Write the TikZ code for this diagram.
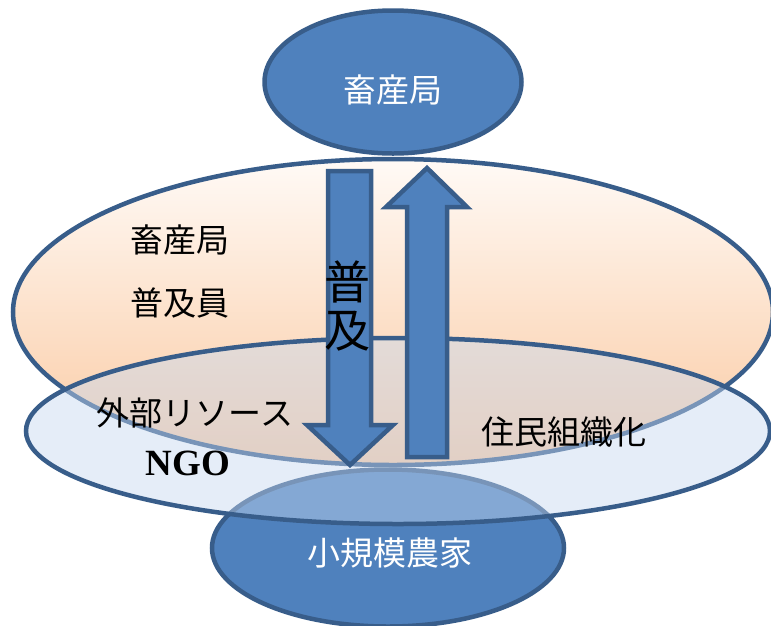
\documentclass[tikz,border=0pt]{standalone}
\usepackage{fontspec}
\newfontfamily\jp{Noto Sans CJK JP}
\newfontfamily\ser{Liberation Serif}
\usetikzlibrary{shapes.geometric}
\definecolor{bfill}{HTML}{4F81BD}
\definecolor{bline}{HTML}{385D8A}
\definecolor{otop}{HTML}{FFFAF6}
\definecolor{obot}{HTML}{FAC9A1}
\definecolor{lblue}{HTML}{C6D9F1}
\begin{document}
\begin{tikzpicture}[x=1pt,y=-1pt,
  blueell/.style={ellipse, draw=bline, fill=bfill, line width=4.5pt, inner sep=0pt},
  orangeell/.style={ellipse, draw=bline, line width=4.5pt, inner sep=0pt, top color=otop, bottom color=obot},
  lightell/.style={ellipse, draw=bline, line width=4.5pt, inner sep=0pt, fill=lblue, fill opacity=0.45},
  blockarrow/.style={draw=bline, fill=bfill, line width=4.5pt, line join=miter},
  wtext/.style={text=white, font=\jp\fontsize{33}{38}\selectfont},
  btext/.style={text=black, font=\jp\fontsize{33}{38}\selectfont},
]
\useasboundingbox (0,0) rectangle (771,625);
\clip (0,0) rectangle (771,625);
\fill[white] (0,0) rectangle (771,625);

\node[blueell, minimum width=257, minimum height=143] (top) at (393,82) {};
\node[orangeell, minimum width=760, minimum height=306] (mid) at (393,312) {};
\node[blueell, minimum width=352, minimum height=157] (farm) at (388,548) {};
\node[lightell, minimum width=744, minimum height=186] (ext) at (398,431) {};

% down arrow
\coordinate (d1) at (328,171);
\coordinate (d2) at (371,171);
\coordinate (d3) at (371,425);
\coordinate (d4) at (393,425);
\coordinate (dtip) at (350,465);
\coordinate (d6) at (307,425);
\coordinate (d7) at (328,425);
\draw[blockarrow] (d1) -- (d2) -- (d3) -- (d4) -- (dtip) -- (d6) -- (d7) -- cycle;
% up arrow
\coordinate (u1) at (407,457);
\coordinate (u2) at (447,457);
\coordinate (u3) at (447,207);
\coordinate (u4) at (467,207);
\coordinate (utip) at (427,168);
\coordinate (u6) at (386,207);
\coordinate (u7) at (407,207);
\draw[blockarrow] (u1) -- (u2) -- (u3) -- (u4) -- (utip) -- (u6) -- (u7) -- cycle;

\node[wtext] (ttop) at (393,90) {畜産局};
\node[btext] (t1) at (180,240) {畜産局};
\node[btext] (t2) at (180,303) {普及員};
\node[text=black, font=\jp\fontsize{46}{48}\selectfont, align=center, inner sep=0pt] (fk) at (347,306) {普\\及};
\node[btext] (t3) at (195,413) {外部リソース};
\node[text=black, font=\ser\bfseries\fontsize{37}{40}\selectfont] (ngo) at (188,463) {NGO};
\node[btext] (t4) at (564,432) {住民組織化};
\node[wtext] (tfarm) at (390,553) {小規模農家};
\end{tikzpicture}
\end{document}
